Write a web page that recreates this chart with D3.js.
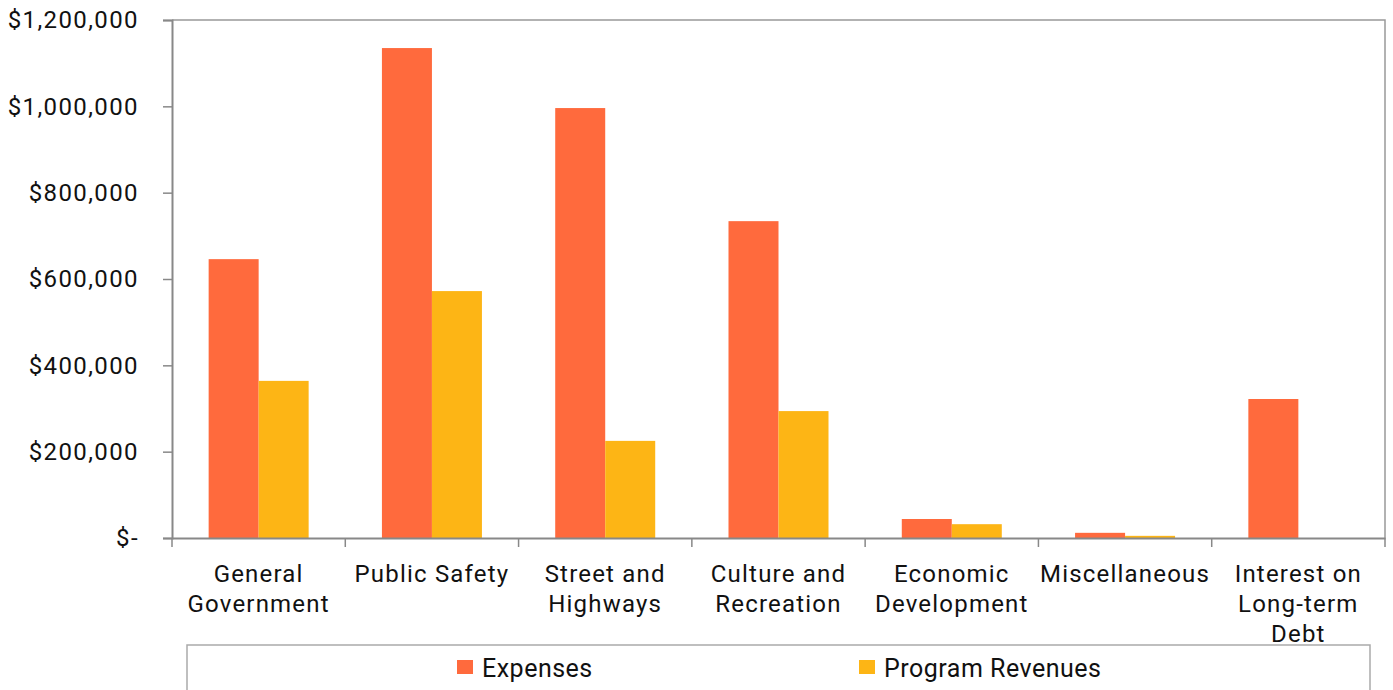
<!DOCTYPE html>
<html>
<head>
<meta charset="utf-8">
<script src="https://cdn.jsdelivr.net/npm/d3@7"></script>
<style>
  body { margin: 0; background: #fff; }
  text { font-family: Roboto, "Liberation Sans", sans-serif; fill: #111; }
</style>
</head>
<body>
<div id="chart"></div>
<script>
const categories = [
  ["General", "Government"],
  ["Public Safety"],
  ["Street and", "Highways"],
  ["Culture and", "Recreation"],
  ["Economic", "Development"],
  ["Miscellaneous"],
  ["Interest on", "Long-term", "Debt"]
];
const expenses = [646000, 1135000, 996000, 734000, 44000, 12000, 322000];
const revenues = [364000, 572000, 225000, 294000, 32000, 5000, 0];
const seriesNames = ["Expenses", "Program Revenues"];
const colors = ["#ff6a3d", "#fdb515"];
const yTicks = [0, 200000, 400000, 600000, 800000, 1000000, 1200000];

const width = 1393, height = 690;
const margin = {top: 20, right: 8, bottom: 152, left: 172};
const innerW = width - margin.left - margin.right;
const innerH = height - margin.top - margin.bottom;

const svg = d3.select("#chart").append("svg")
    .attr("width", width)
    .attr("height", height);

const g = svg.append("g")
    .attr("transform", "translate(" + margin.left + "," + margin.top + ")");

const x = d3.scaleBand()
    .domain(d3.range(categories.length))
    .range([0, innerW])
    .paddingInner(0)
    .paddingOuter(0);

const xInner = d3.scaleBand()
    .domain([0, 1])
    .range([0, 100])
    .padding(0);

const y = d3.scaleLinear()
    .domain([0, 1200000])
    .range([innerH, 0]);

// frame (top + right)
g.append("path")
    .attr("d", "M0,0H" + innerW + "V" + innerH)
    .attr("fill", "none")
    .attr("stroke", "#999")
    .attr("stroke-width", 1.5);

// bars
const data = categories.map((c, i) => [expenses[i], revenues[i]]);
const group = g.selectAll(".cat")
    .data(data)
  .enter().append("g")
    .attr("class", "cat")
    .attr("transform", (d, i) => "translate(" + (x(i) + (x.bandwidth() - 100) / 2) + ",0)");

group.selectAll("rect")
    .data(d => d)
  .enter().append("rect")
    .attr("x", (d, j) => xInner(j))
    .attr("width", xInner.bandwidth())
    .attr("y", d => y(d))
    .attr("height", d => innerH - y(d))
    .attr("fill", (d, j) => colors[j]);

// y axis
const fmt = d => d === 0 ? "$-" : "$" + d3.format(",")(d);
const yAxis = g.append("g")
    .call(d3.axisLeft(y).tickValues(yTicks).tickFormat(fmt).tickSize(9).tickPadding(24));
yAxis.select(".domain").attr("stroke", "#888").attr("stroke-width", 2);
yAxis.selectAll(".tick line").attr("stroke", "#888").attr("stroke-width", 1.5);
yAxis.selectAll("text")
    .style("font-size", "24px")
    .style("letter-spacing", "1.4px")
    .attr("fill", "#111");

// x axis
const xAxis = g.append("g")
    .attr("transform", "translate(0," + innerH + ")")
    .call(d3.axisBottom(x).tickValues([]).tickSizeOuter(0));
xAxis.select(".domain").attr("stroke", "#888").attr("stroke-width", 2);
xAxis.selectAll(".sep")
    .data(d3.range(categories.length + 1))
  .enter().append("line")
    .attr("class", "sep")
    .attr("x1", i => i * x.step())
    .attr("x2", i => i * x.step())
    .attr("y1", 0)
    .attr("y2", 9)
    .attr("stroke", "#888")
    .attr("stroke-width", 1.5);

const labels = g.append("g").selectAll("text")
    .data(categories)
  .enter().append("text")
    .attr("text-anchor", "middle")
    .attr("x", (d, i) => x(i) + x.bandwidth() / 2)
    .attr("y", innerH + 44)
    .style("font-size", "24px")
    .style("letter-spacing", "1.2px");
labels.selectAll("tspan")
    .data(d => d)
  .enter().append("tspan")
    .attr("x", function() { return d3.select(this.parentNode).attr("x"); })
    .attr("dy", (d, i) => i === 0 ? 0 : 30)
    .text(d => d);

// legend
const legend = svg.append("g").attr("class", "legend");
legend.append("rect")
    .attr("x", 187).attr("y", 645)
    .attr("width", 1183).attr("height", 60)
    .attr("fill", "none")
    .attr("stroke", "#aaa")
    .attr("stroke-width", 1.5);

const legendX = [457, 859];
const item = legend.selectAll(".item")
    .data(seriesNames)
  .enter().append("g")
    .attr("class", "item")
    .attr("transform", (d, i) => "translate(" + legendX[i] + ",660)");
item.append("rect")
    .attr("width", 16).attr("height", 14)
    .attr("fill", (d, i) => colors[i]);
item.append("text")
    .attr("x", 25).attr("y", 17)
    .style("font-size", "25px")
    .style("letter-spacing", "0.5px")
    .text(d => d);
</script>
</body>
</html>
